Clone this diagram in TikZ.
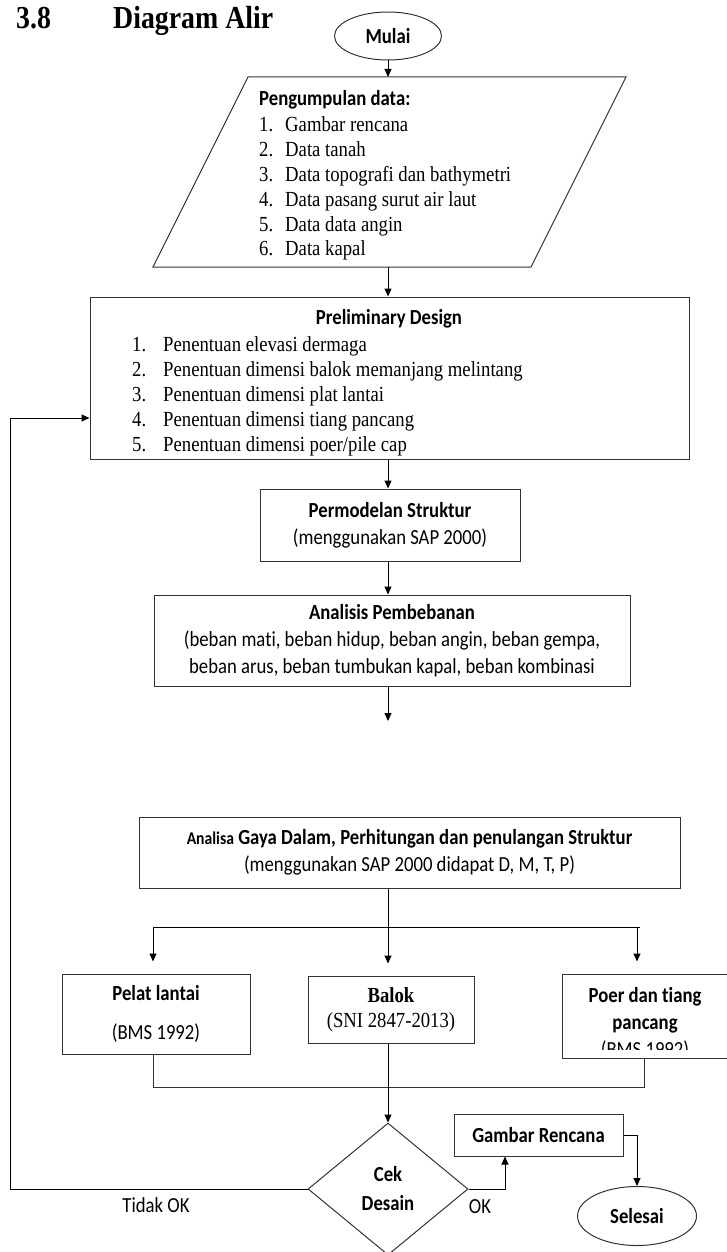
\documentclass[tikz,border=0pt]{standalone}
\usepackage{fontspec}
\setmainfont{Liberation Serif}[FakeStretch=0.87]
\newfontfamily\calfont{Carlito}[FakeStretch=0.87, Ligatures=NoCommon]
\usetikzlibrary{arrows.meta, shapes.geometric, positioning}
\tikzset{
    garis/.style={draw=black!80, line width=1pt},
    kotak/.style={garis, rectangle, inner sep=0pt, align=center, font=\calfont\fontsize{21.5}{27}\selectfont},
    panah/.style={garis, draw=black, -{Triangle[length=8pt,width=7pt]}},
    isi/.style={inner sep=0pt, anchor=base west, font=\fontsize{21.5}{25}\selectfont},
    teks/.style={inner sep=0pt, font=\calfont\fontsize{21.5}{27}\selectfont},
    tebal/.style={font=\calfont\bfseries\fontsize{21.5}{27}\selectfont},
}

\begin{document}
\begin{tikzpicture}[x=1pt,y=-1pt]
\useasboundingbox (0,0) rectangle (726,1252);
% judul
\node[anchor=base west, inner sep=0pt, font=\bfseries\fontsize{32}{36}\selectfont] (nomor) at (16,29) {3.8};
\node[anchor=base west, inner sep=0pt, font=\bfseries\fontsize{32}{36}\selectfont] (judul) at (113,29) {Diagram Alir};
% mulai dan data
\node[kotak, ellipse, tebal, minimum width=107pt, minimum height=48pt] (mulai) at (388,36) {Mulai};
\draw[garis] (153,267) -- (531,267) -- (626,77) -- (248,77) -- cycle;
\coordinate (dataatas) at (388,77);
\coordinate (databawah) at (388,267);
\node[isi, font=\calfont\bfseries\fontsize{21.5}{25}\selectfont] (datajudul) at (259,106) {Pengumpulan data:};
\foreach \nn/\baris in {1/Gambar rencana, 2/Data tanah, 3/Data topografi dan bathymetri, 4/Data pasang surut air laut, 5/Data data angin, 6/Data kapal} {
    \node[isi] (dno\nn) at (259,{107+24.8*\nn}) {\nn.};
    \node[isi] (dtx\nn) at (285,{107+24.8*\nn}) {\baris};
}
% preliminary design
\node[garis, rectangle, minimum width=599pt, minimum height=162pt, inner sep=0pt] (prelim) at (389.5,378) {};
\node[tebal, inner sep=0pt, anchor=base] (prelimjudul) at (389,324) {Preliminary Design};
\foreach \nn/\baris in {1/Penentuan elevasi dermaga, 2/Penentuan dimensi balok memanjang melintang, 3/Penentuan dimensi plat lantai, 4/Penentuan dimensi tiang pancang, 5/{Penentuan dimensi poer/pile cap}} {
    \node[isi] (pno\nn) at (132,{326+25*\nn}) {\nn.};
    \node[isi] (ptx\nn) at (163,{326+25*\nn}) {\baris};
}
% pemodelan dan pembebanan
\node[kotak, minimum width=260pt, minimum height=72pt] (model) at (390,525) {\textbf{Permodelan Struktur}\\(menggunakan SAP 2000)};
\node[kotak, minimum width=476pt, minimum height=91pt] (beban) at (392,640.5) {\textbf{Analisis Pembebanan}\\(beban mati, beban hidup, beban angin, beban gempa,\\beban arus, beban tumbukan kapal, beban kombinasi};
\coordinate (ujung) at (388,721);
\node[kotak, minimum width=541pt, minimum height=71pt] (gaya) at (409.5,852.5) {\textbf{{\fontsize{18}{27}\selectfont Analisa} Gaya Dalam, Perhitungan dan penulangan Struktur}\\(menggunakan SAP 2000 didapat D, M, T, P)};
% cabang
\coordinate (cabang) at (388,927);
\coordinate (cabangkiri) at (153,927);
\coordinate (cabangkanan) at (640,927);
\coordinate (cabangpoer) at (637,927);
\node[kotak, minimum width=188pt, minimum height=80pt] (pelat) at (156,1014) {\textbf{Pelat lantai}\\[12pt](BMS 1992)};
\node[kotak, minimum width=166pt, minimum height=67pt, font=\fontsize{21.5}{25}\selectfont] (balok) at (391,1009.5) {\textbf{Balok}\\(SNI 2847-2013)};
\node[garis, rectangle, minimum width=166pt, minimum height=84pt, inner sep=0pt] (poer) at (645,1016) {};
\begin{scope}
\clip (562,974) rectangle (728,1049);
\node[kotak, draw=none] (poerteks) at (645,1023) {\textbf{Poer dan tiang}\\\textbf{pancang}\\(BMS 1992)};
\end{scope}
% cek desain
\node[garis, diamond, minimum width=160pt, minimum height=132pt, inner sep=0pt, align=center, font=\calfont\bfseries\fontsize{21.5}{29}\selectfont] (cek) at (388,1189) {Cek\\Desain};
\node[kotak, tebal, minimum width=169pt, minimum height=42pt] (gambar) at (538.5,1135) {Gambar Rencana};
\node[kotak, ellipse, tebal, minimum width=119pt, minimum height=59pt] (selesai) at (637,1216) {Selesai};
\coordinate (kumpulkiri) at (153,1087);
\coordinate (kumpulkanan) at (644,1087);
\coordinate (balikbawah) at (10,1189);
\coordinate (balikatas) at (10,418);
\coordinate (okbelok) at (505,1189);
\node[teks] (tidakok) at (156,1205) {Tidak OK};
\node[teks] (ok) at (480,1207) {OK};
% panah
\draw[panah] (mulai.south) -- (dataatas);
\draw[panah] (databawah) -- (prelim.north -| databawah);
\draw[panah] (prelim.south -| mulai) -- (model.north -| mulai);
\draw[panah] (model.south -| mulai) -- (beban.north -| mulai);
\draw[panah] (beban.south -| mulai) -- (ujung);
\draw[garis, draw=black] (gaya.south -| cabang) -- (cabang);
\draw[garis, draw=black] (cabangkiri) -- (cabangkanan);
\draw[panah] (cabangkiri) -- ([yshift=12pt]pelat.north -| cabangkiri);
\draw[panah] (cabang) -- ([yshift=12pt]balok.north -| cabang);
\draw[panah] (cabangpoer) -- ([yshift=12pt]poer.north -| cabangpoer);
\draw[garis] (pelat.south -| kumpulkiri) -- (kumpulkiri) -- (kumpulkanan) -- (poer.south -| kumpulkanan);
\draw[panah] (balok.south -| cabang) -- (cek.north);
\draw[panah] (cek.west) -- (balikbawah) -- (balikatas) -- (balikatas -| prelim.west);
\draw[panah] (cek.east) -- (okbelok) -- (okbelok |- gambar.south);
\draw[panah] (gambar.east) -| (selesai.north);
\end{tikzpicture}
\end{document}
